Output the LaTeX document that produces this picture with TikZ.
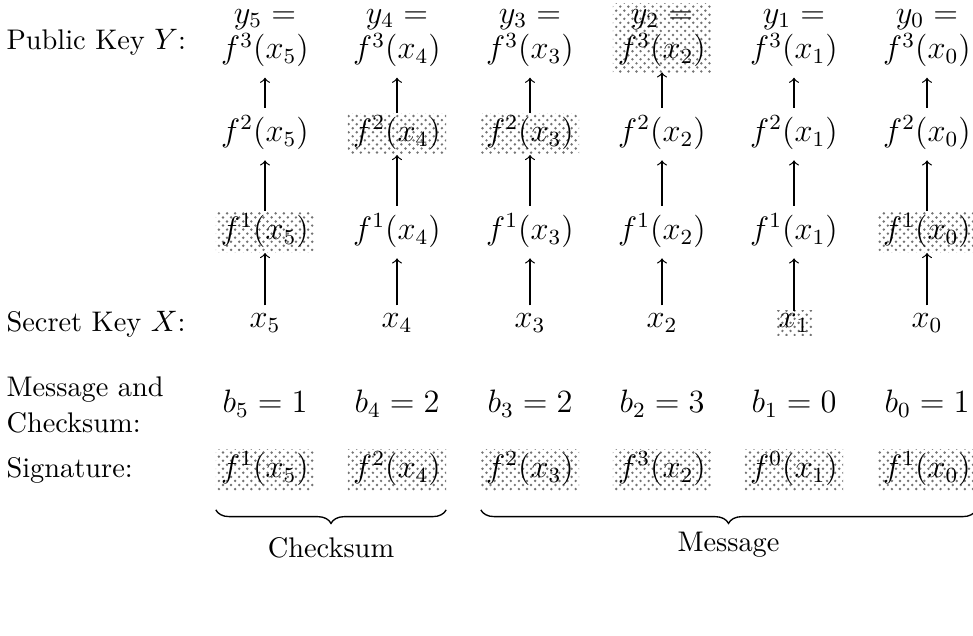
\documentclass[tikz,border=0pt]{standalone}
\usetikzlibrary{patterns,decorations.pathreplacing}
\begin{document}
\begin{tikzpicture}[x=0.37pt,y=-0.37pt,
  lbl/.style={anchor=west, font=\fontsize{10.5}{13}\selectfont, inner sep=0pt, align=left},
  mnode/.style={font=\fontsize{11.5}{13}\selectfont, inner sep=2pt, outer sep=2pt, text height=8.5pt, text depth=3pt},
  pknode/.style={font=\fontsize{11.5}{13.2}\selectfont, inner sep=2pt, outer sep=2pt, align=center},
  xnode/.style={font=\fontsize{11.5}{13}\selectfont, inner sep=1pt, outer sep=2pt},
  shd/.style={pattern=crosshatch dots, pattern color=black!55, outer sep=0pt},
  arr/.style={->, line width=0.45pt},
  brc/.style={decorate, decoration={brace, mirror, amplitude=5pt}, line width=0.5pt},
  brlbl/.style={font=\fontsize{10.5}{13}\selectfont, inner sep=0pt}]
\useasboundingbox (0,0) rectangle (973,635);

% row labels
\node[lbl] (lpk) at (6,42) {Public Key $Y$:};
\node[lbl] (lsk) at (6,324) {Secret Key $X$:};
\node[lbl] (lmc) at (6,405) {Message and\\Checksum:};
\node[lbl] (lsg) at (6,470) {Signature:};

% public key row
\node[pknode] (p5) at (265,38) {$y_5 =$\\$f^3(x_5)$};
\node[pknode] (p4) at (397,38) {$y_4 =$\\$f^3(x_4)$};
\node[pknode] (p3) at (530,38) {$y_3 =$\\$f^3(x_3)$};
\node[pknode,shd] (p2) at (662,38) {$y_2 =$\\$f^3(x_2)$};
\node[pknode] (p1) at (794,38) {$y_1 =$\\$f^3(x_1)$};
\node[pknode] (p0) at (927,38) {$y_0 =$\\$f^3(x_0)$};

% f^2 row
\node[mnode] (g5) at (265,134) {$f^2(x_5)$};
\node[mnode,shd] (g4) at (397,134) {$f^2(x_4)$};
\node[mnode,shd] (g3) at (530,134) {$f^2(x_3)$};
\node[mnode] (g2) at (662,134) {$f^2(x_2)$};
\node[mnode] (g1) at (794,134) {$f^2(x_1)$};
\node[mnode] (g0) at (927,134) {$f^2(x_0)$};

% f^1 row
\node[mnode,shd] (h5) at (265,232) {$f^1(x_5)$};
\node[mnode] (h4) at (397,232) {$f^1(x_4)$};
\node[mnode] (h3) at (530,232) {$f^1(x_3)$};
\node[mnode] (h2) at (662,232) {$f^1(x_2)$};
\node[mnode] (h1) at (794,232) {$f^1(x_1)$};
\node[mnode,shd] (h0) at (927,232) {$f^1(x_0)$};

% secret key row
\node[xnode] (x5) at (265,323) {$x_5$};
\node[xnode] (x4) at (397,323) {$x_4$};
\node[xnode] (x3) at (530,323) {$x_3$};
\node[xnode] (x2) at (662,323) {$x_2$};
\node[xnode,shd] (x1) at (794,323) {$x_1$};
\node[xnode] (x0) at (927,323) {$x_0$};

% arrows
\foreach \i in {5,4,3,2,1,0}{
  \draw[arr] (x\i) -- (h\i);
  \draw[arr] (h\i) -- (g\i);
  \draw[arr] (g\i) -- (p\i);
}

% message and checksum row
\node[mnode] (b5) at (265,405) {$b_5 = 1$};
\node[mnode] (b4) at (397,405) {$b_4 = 2$};
\node[mnode] (b3) at (530,405) {$b_3 = 2$};
\node[mnode] (b2) at (662,405) {$b_2 = 3$};
\node[mnode] (b1) at (794,405) {$b_1 = 0$};
\node[mnode] (b0) at (927,405) {$b_0 = 1$};

% signature row
\node[mnode,shd] (s5) at (265,470) {$f^1(x_5)$};
\node[mnode,shd] (s4) at (397,470) {$f^2(x_4)$};
\node[mnode,shd] (s3) at (530,470) {$f^2(x_3)$};
\node[mnode,shd] (s2) at (662,470) {$f^3(x_2)$};
\node[mnode,shd] (s1) at (794,470) {$f^0(x_1)$};
\node[mnode,shd] (s0) at (927,470) {$f^1(x_0)$};

% braces
\draw[brc] ([yshift=-7pt]s5.south west) -- ([yshift=-7pt]s4.south east)
  node[midway, below=10pt, brlbl] (chk) {Checksum};
\draw[brc] ([yshift=-7pt]s3.south west) -- ([yshift=-7pt]s0.south east)
  node[midway, below=8pt, brlbl] (msg) {Message};
\end{tikzpicture}
\end{document}
